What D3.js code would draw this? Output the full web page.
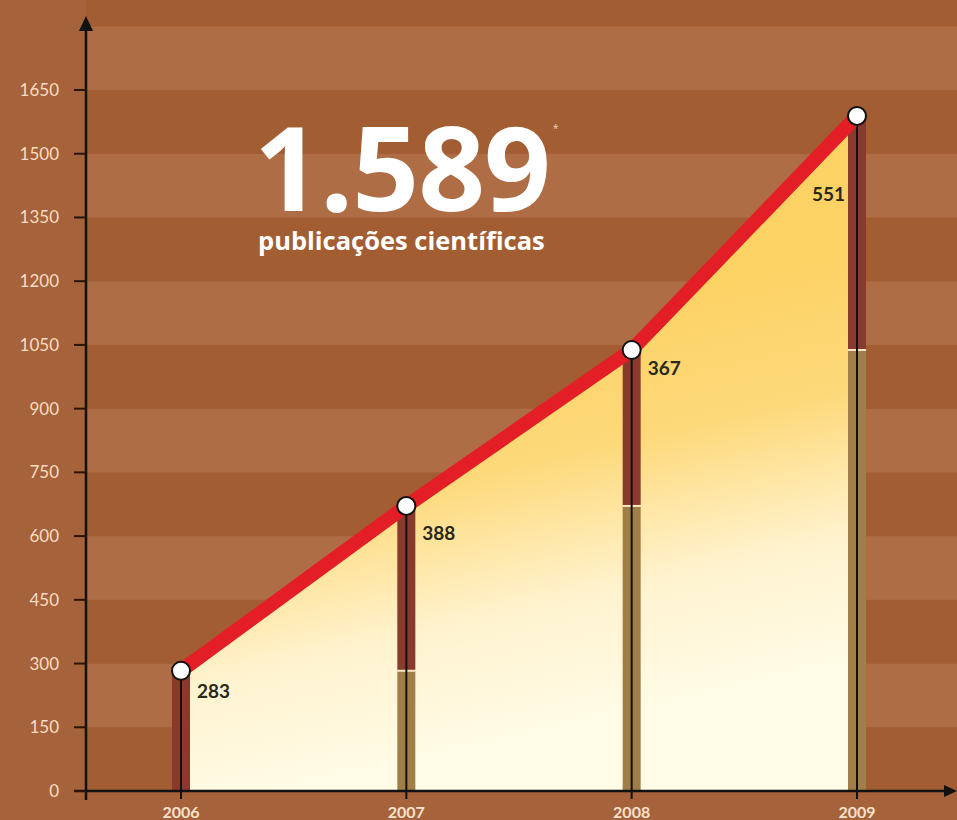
<!DOCTYPE html>
<html>
<head>
<meta charset="utf-8">
<script src="https://cdn.jsdelivr.net/npm/d3@7"></script>
<style>
  body { margin: 0; background: #a6623a; }
  svg { display: block; }
</style>
</head>
<body>
<svg id="chart"></svg>
<script>
// Data
const years = ["2006", "2007", "2008", "2009"];
const newPubs = [283, 388, 367, 551];
const yTicks = [0, 150, 300, 450, 600, 750, 900, 1050, 1200, 1350, 1500, 1650];
const totalLabel = "1.589";
const subtitle = "publicações científicas";

// running totals
const totals = [];
newPubs.reduce((acc, v) => { totals.push(acc + v); return acc + v; }, 0);

function drawChart() {
    const W = 957, H = 820;
    const axisX = 86;

    const svg = d3.select("#chart")
        .attr("width", W)
        .attr("height", H);

    const x = d3.scalePoint()
        .domain(years)
        .range([181, 857]);

    const y = d3.scaleLinear()
        .domain([0, 1650])
        .range([791, 90]);

    // background
    svg.append("rect")
        .attr("width", W).attr("height", H)
        .attr("fill", "#a6623a");

    // horizontal stripes every 150 units
    const bands = d3.range(0, 1950, 150);
    svg.append("g")
        .selectAll("rect")
        .data(bands)
        .enter()
        .append("rect")
        .attr("x", axisX)
        .attr("width", W - axisX)
        .attr("y", d => Math.max(0, y(d + 150)))
        .attr("height", d => y(d) - Math.max(0, y(d + 150)))
        .attr("fill", (d, i) => i % 2 ? "#ae6d45" : "#a35d33");

    // gradient for the area
    const defs = svg.append("defs");
    const grad = defs.append("linearGradient")
        .attr("id", "areaGrad")
        .attr("gradientUnits", "userSpaceOnUse")
        .attr("x1", 330).attr("y1", 360)
        .attr("x2", 420).attr("y2", 760);
    grad.append("stop").attr("offset", 0).attr("stop-color", "#fdd264");
    grad.append("stop").attr("offset", 0.35).attr("stop-color", "#fdd97a");
    grad.append("stop").attr("offset", 0.7).attr("stop-color", "#fff3cf");
    grad.append("stop").attr("offset", 1).attr("stop-color", "#fffbe6");

    const area = d3.area()
        .x((d, i) => x(years[i]))
        .y0(y(0))
        .y1(d => y(d));

    svg.append("path")
        .datum(totals)
        .attr("d", area)
        .attr("fill", "url(#areaGrad)");

    // stacked bars: previous total (olive) + new this year (dark red)
    const barW = 18;
    const bars = svg.append("g");
    years.forEach((yr, i) => {
        const prev = i === 0 ? 0 : totals[i - 1];
        const cx = x(yr);
        if (prev > 0) {
            bars.append("rect")
                .attr("x", cx - barW / 2)
                .attr("width", barW)
                .attr("y", y(prev))
                .attr("height", y(0) - y(prev))
                .attr("fill", "#a17e48");
            bars.append("line")
                .attr("x1", cx - barW / 2).attr("x2", cx + barW / 2)
                .attr("y1", y(prev)).attr("y2", y(prev))
                .attr("stroke", "#fbe7c4")
                .attr("stroke-width", 2);
        }
        bars.append("rect")
            .attr("x", cx - barW / 2)
            .attr("width", barW)
            .attr("y", y(totals[i]))
            .attr("height", y(prev) - y(totals[i]) - (prev > 0 ? 1 : 0))
            .attr("fill", "#8a3a2c");
        bars.append("line")
            .attr("x1", cx).attr("x2", cx)
            .attr("y1", y(0) + 8).attr("y2", y(totals[i]))
            .attr("stroke", "#111")
            .attr("stroke-width", 2);
    });

    // red line
    const line = d3.line()
        .x((d, i) => x(years[i]))
        .y(d => y(d));

    svg.append("path")
        .datum(totals)
        .attr("d", line)
        .attr("fill", "none")
        .attr("stroke", "#e41e26")
        .attr("stroke-width", 14);

    // axes
    svg.append("line")
        .attr("x1", axisX).attr("x2", axisX)
        .attr("y1", 800).attr("y2", 28)
        .attr("stroke", "#111").attr("stroke-width", 2.5);
    svg.append("path")
        .attr("d", `M${axisX - 7},31 L${axisX},16 L${axisX + 7},31 Z`)
        .attr("fill", "#111");

    svg.append("line")
        .attr("x1", 74).attr("x2", 948)
        .attr("y1", y(0)).attr("y2", y(0))
        .attr("stroke", "#111").attr("stroke-width", 2.5);
    svg.append("path")
        .attr("d", `M944,${y(0) - 6} L957,${y(0)} L944,${y(0) + 6} Z`)
        .attr("fill", "#111");

    // y ticks
    const yAxis = svg.append("g");
    yAxis.selectAll("line")
        .data(yTicks)
        .enter()
        .append("line")
        .attr("x1", 74).attr("x2", axisX)
        .attr("y1", d => y(d)).attr("y2", d => y(d))
        .attr("stroke", "#2a1408").attr("stroke-width", 2);
    yAxis.selectAll("text")
        .data(yTicks)
        .enter()
        .append("text")
        .attr("x", 59)
        .attr("y", d => y(d) + 6)
        .attr("text-anchor", "end")
        .attr("fill", "#f8dcc2")
        .style("font-family", "Lato, 'Open Sans', sans-serif")
        .style("font-size", "17px")
        .text(d => d);

    // x ticks
    const xAxis = svg.append("g");
    xAxis.selectAll("text")
        .data(years)
        .enter()
        .append("text")
        .attr("x", d => x(d))
        .attr("y", 818)
        .attr("text-anchor", "middle")
        .attr("fill", "#f8e2cc")
        .style("font-family", "Lato, 'Open Sans', sans-serif")
        .style("font-weight", "bold")
        .style("font-size", "16px")
        .text(d => d);

    // points
    svg.append("g")
        .selectAll("circle")
        .data(totals)
        .enter()
        .append("circle")
        .attr("cx", (d, i) => x(years[i]))
        .attr("cy", d => y(d))
        .attr("r", 9)
        .attr("fill", "#fff")
        .attr("stroke", "#111")
        .attr("stroke-width", 2);

    // value labels (last one sits left of its bar)
    const labelDy = [27, 34, 25, 85];
    svg.append("g")
        .selectAll("text")
        .data(newPubs)
        .enter()
        .append("text")
        .attr("x", (d, i) => i === years.length - 1 ? x(years[i]) - 12 : x(years[i]) + 16)
        .attr("y", (d, i) => y(totals[i]) + labelDy[i])
        .attr("text-anchor", (d, i) => i === years.length - 1 ? "end" : "start")
        .attr("fill", "#2a2818")
        .style("font-family", "Lato, 'Open Sans', sans-serif")
        .style("font-weight", "bold")
        .style("font-size", "19px")
        .text(d => d);

    // headline
    svg.append("text")
        .attr("x", 254)
        .attr("y", 211)
        .attr("fill", "#fff")
        .style("font-family", "'Open Sans', sans-serif")
        .style("font-weight", "bold")
        .style("font-size", "117px")
        .style("letter-spacing", "-1px")
        .text(totalLabel);
    svg.append("text")
        .attr("x", 553)
        .attr("y", 132)
        .attr("fill", "#f0d8c0")
        .style("font-family", "'Open Sans', sans-serif")
        .style("font-size", "10px")
        .text("*");
    svg.append("text")
        .attr("x", 258)
        .attr("y", 250)
        .attr("fill", "#fff")
        .style("font-family", "'Open Sans', sans-serif")
        .style("font-weight", "bold")
        .style("font-size", "25.5px")
        .text(subtitle);
}

document.addEventListener('DOMContentLoaded', function () {
    drawChart();
});
</script>
</body>
</html>
